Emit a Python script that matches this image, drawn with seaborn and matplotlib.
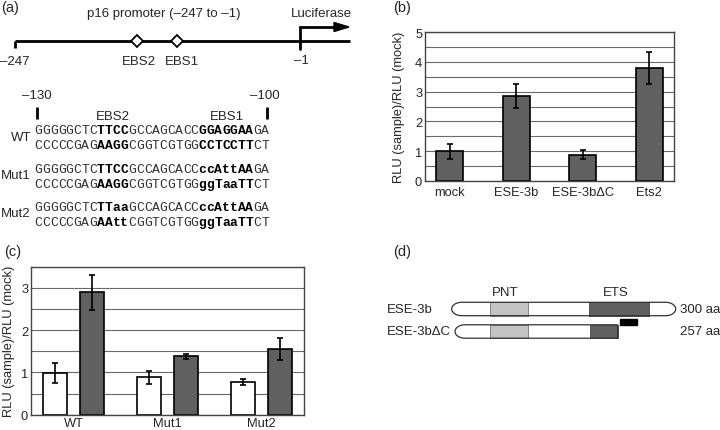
import numpy as np
import pandas as pd
import matplotlib
matplotlib.use("Agg")
import matplotlib.pyplot as plt
import seaborn as sns
from matplotlib.ticker import MultipleLocator
from matplotlib.patches import Polygon, Rectangle

sns.set_style("white")
plt.rcParams['font.family'] = ['Liberation Sans', 'DejaVu Sans']

# panel (b) data
b_labels = ["mock", "ESE-3b", "ESE-3b\u0394C", "Ets2"]
b_means = [0.99, 2.86, 0.88, 3.79]
b_err = [0.245, 0.41, 0.14, 0.545]

# panel (c) data
c_groups = ["WT", "Mut1", "Mut2"]
c_hue = ["mock", "ESE-3b"]
c_mock = [0.99, 0.88, 0.78]
c_mock_err = [0.23, 0.15, 0.075]
c_ese = [2.89, 1.38, 1.55]
c_ese_err = [0.41, 0.055, 0.26]

# panel (a) sequences: (text, bold)
seq_names = ["WT", "Mut1", "Mut2"]
seq_rows = [
    [[("GGGGGCTC", 0), ("TTCC", 1), ("GCCAGCACC", 0), ("GGAGGAA", 1), ("GA", 0)],
     [("CCCCCGAG", 0), ("AAGG", 1), ("CGGTCGTGG", 0), ("CCTCCTT", 1), ("CT", 0)]],
    [[("GGGGGCTC", 0), ("TTCC", 1), ("GCCAGCACC", 0), ("ccAttAA", 1), ("GA", 0)],
     [("CCCCCGAG", 0), ("AAGG", 1), ("CGGTCGTGG", 0), ("ggTaaTT", 1), ("CT", 0)]],
    [[("GGGGGCTC", 0), ("TTaa", 1), ("GCCAGCACC", 0), ("ccAttAA", 1), ("GA", 0)],
     [("CCCCCGAG", 0), ("AAtt", 1), ("CGGTCGTGG", 0), ("ggTaaTT", 1), ("CT", 0)]],
]

# panel (d) domains
prot_names = ["ESE-3b", "ESE-3b\u0394C"]
prot_len = ["300 aa", "257 aa"]

W, H = 720, 431
fig = plt.figure(figsize=(W / 100, H / 100), dpi=100)


def box(l, t, r, b):
    return [l / W, 1 - b / H, (r - l) / W, (b - t) / H]


# overlay in pixel coordinates for the diagrams
ov = fig.add_axes([0, 0, 1, 1])
ov.set_xlim(0, W)
ov.set_ylim(H, 0)
ov.axis("off")
ov.patch.set_visible(False)

fs = 9.5
for lab, x, y in [("(a)", 1, 1), ("(b)", 393, 1), ("(c)", 4, 245), ("(d)", 393, 245)]:
    ov.text(x, y, lab, fontsize=10.5, ha="left", va="top")

# promoter line
ov.plot([15, 350], [42.3, 42.3], color="black", lw=2, solid_capstyle="butt")
ov.plot([15, 15], [42.3, 49], color="black", lw=2, solid_capstyle="butt")
ov.plot([300, 300, 336], [50, 28, 28], color="black", lw=2, solid_joinstyle="miter")
ov.add_patch(Polygon([[334, 23.5], [334, 32.5], [349, 28]], closed=True, color="black"))
ov.plot([136.7, 176.7], [42.3, 42.3], ls="none", marker="D", ms=6.5,
        mfc="white", mec="black", mew=1.3)
ov.text(164, 14, "p16 promoter (\u2013247 to \u20131)", fontsize=fs, ha="center", va="center")
ov.text(321, 14, "Luciferase", fontsize=fs, ha="center", va="center")
ov.text(15, 62, "\u2013247", fontsize=fs, ha="center", va="center")
ov.text(139, 62, "EBS2", fontsize=fs, ha="center", va="center")
ov.text(181.5, 62, "EBS1", fontsize=fs, ha="center", va="center")
ov.text(301, 61, "\u20131", fontsize=fs, ha="center", va="center")

# sequence block
ov.text(37, 96, "\u2013130", fontsize=fs, ha="center", va="center")
ov.text(265, 96, "\u2013100", fontsize=fs, ha="center", va="center")
for xx in (36.7, 266.7):
    ov.plot([xx, xx], [107.5, 120], color="black", lw=2, solid_capstyle="butt")
ov.text(113, 116.7, "EBS2", fontsize=fs, ha="center", va="center")
ov.text(227, 116.7, "EBS1", fontsize=fs, ha="center", va="center")

x0, cw = 34.3, 7.82
baselines = [(134.3, 149.3), (172.7, 187.7), (211, 226)]
for name, rows, bl in zip(seq_names, seq_rows, baselines):
    ov.text(31, (bl[0] + bl[1]) / 2 - 4, name, fontsize=fs, ha="right", va="center")
    for row, y in zip(rows, bl):
        i = 0
        for seg, bold in row:
            for ch in seg:
                ov.text(x0 + (i + 0.5) * cw, y, ch, family="Liberation Mono",
                        fontsize=9.4, ha="center", va="baseline",
                        fontweight="bold" if bold else "normal",
                        color="black" if bold else "#333333")
                i += 1


# panel (d) protein diagram
def capsule(xa, xb, yc, h, round_right, rx=10):
    ry = h / 2
    t = np.linspace(np.pi / 2, 3 * np.pi / 2, 30)
    left = np.c_[xa + rx + rx * np.cos(t), yc - ry * np.sin(t)]
    if round_right:
        t2 = np.linspace(-np.pi / 2, np.pi / 2, 30)
        right = np.c_[xb - rx + rx * np.cos(t2), yc - ry * np.sin(t2)]
    else:
        right = np.array([[xb, yc + ry], [xb, yc - ry]])
    return np.vstack([left, right])


rows_d = [(451.7, 675.7, 310, True, 589.3, 649.3), (455, 617.7, 332.5, False, 590, 617.7)]
for (xa, xb, yc, rr, ea, eb), nm, ln in zip(rows_d, prot_names, prot_len):
    h = 13.4
    ov.add_patch(Polygon(capsule(xa, xb, yc, h, rr), closed=True, fc="white", ec="none"))
    ov.add_patch(Rectangle((490, yc - h / 2), 37.7, h, fc="#c3c3c3", ec="#777777", lw=0.6))
    ov.add_patch(Rectangle((ea, yc - h / 2), eb - ea, h, fc="#606060", ec="#444444", lw=0.6))
    ov.add_patch(Polygon(capsule(xa, xb, yc, h, rr), closed=True, fill=False, ec="#333333", lw=0.9))
    ov.text(386.7, yc, nm, fontsize=fs, ha="left", va="center")
    ov.text(680, yc, ln, fontsize=fs, ha="left", va="center")
ov.add_patch(Rectangle((620, 320), 16.7, 5.7, color="black"))
ov.text(505, 293.3, "PNT", fontsize=fs, ha="center", va="center")
ov.text(615.5, 293.3, "ETS", fontsize=fs, ha="center", va="center")


def style_axes(ax, top, xpad):
    ax.set_ylim(0, top)
    ax.yaxis.set_major_locator(MultipleLocator(1))
    ax.yaxis.set_minor_locator(MultipleLocator(0.5))
    ax.grid(axis="y", which="both", color="#6a6a6a", lw=0.8)
    ax.set_axisbelow(True)
    for s in ax.spines.values():
        s.set_visible(True)
        s.set_color("#444444")
        s.set_linewidth(1.0)
    ax.tick_params(axis="both", which="both", length=0, labelsize=9.3)
    ax.tick_params(axis="y", pad=2)
    ax.tick_params(axis="x", pad=xpad)
    ax.set_xlabel("")
    ax.set_ylabel("RLU (sample)/RLU (mock)", fontsize=9.3)


# panel (b)
axb = fig.add_axes(box(425, 33.3, 674, 181.7))
df_b = pd.DataFrame({"sample": b_labels, "rlu": b_means})
sns.barplot(data=df_b, x="sample", y="rlu", color="#606060", width=0.4,
            edgecolor="black", linewidth=1.2, errorbar=None, saturation=1, ax=axb)
for p, e in zip(axb.patches, b_err):
    axb.errorbar(p.get_x() + p.get_width() / 2, p.get_height(), yerr=e, fmt="none",
                 ecolor="black", elinewidth=1.2, capsize=2.5, capthick=1.2)
style_axes(axb, 5, 4)
axb.yaxis.set_label_coords(-0.08, 0.5)

# panel (c)
axc = fig.add_axes(box(31, 267.7, 304, 415.7))
df_c = pd.DataFrame({
    "construct": c_groups * 2,
    "vector": [c_hue[0]] * 3 + [c_hue[1]] * 3,
    "rlu": c_mock + c_ese,
})
sns.barplot(data=df_c, x="construct", y="rlu", hue="vector", hue_order=c_hue,
            palette={"mock": "white", "ESE-3b": "#606060"}, width=0.78, gap=0.36,
            edgecolor="black", linewidth=1.2, errorbar=None, saturation=1,
            legend=False, ax=axc)
for cont, errs in zip(axc.containers, [c_mock_err, c_ese_err]):
    for p, e in zip(cont, errs):
        axc.errorbar(p.get_x() + p.get_width() / 2, p.get_height(), yerr=e, fmt="none",
                     ecolor="black", elinewidth=1.2, capsize=2.5, capthick=1.2)
style_axes(axc, 3.5, 1.5)
axc.set_yticks([0, 1, 2, 3])
axc.yaxis.set_label_coords(-0.058, 0.5)

fig.savefig("out.png", dpi=100)
